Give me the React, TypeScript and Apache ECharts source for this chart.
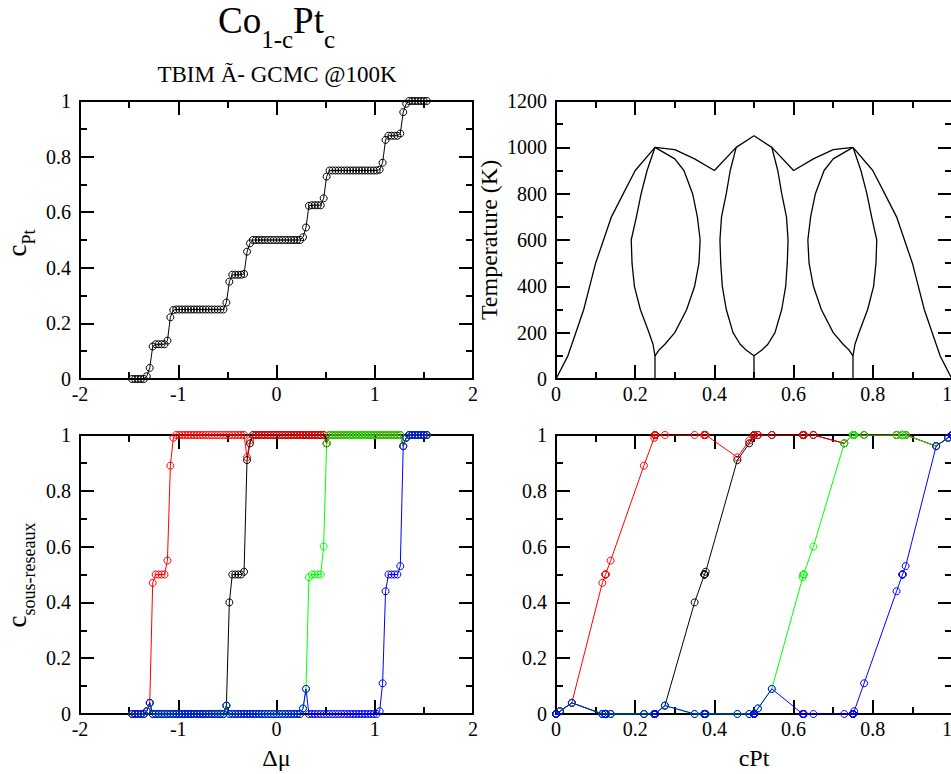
import React, { useEffect, useRef } from "react";
import * as echarts from "echarts";

const FONT = "Liberation Serif";

// Chemical potential grid of the GCMC run
const dmu = [
  -1.47, -1.44, -1.41, -1.38, -1.35, -1.32, -1.29, -1.26, -1.23, -1.2,
  -1.17, -1.14, -1.11, -1.08, -1.05, -1.02, -0.99, -0.96, -0.93, -0.9,
  -0.87, -0.84, -0.81, -0.78, -0.75, -0.72, -0.69, -0.66, -0.63, -0.6,
  -0.57, -0.54, -0.51, -0.48, -0.45, -0.42, -0.39, -0.36, -0.33, -0.3,
  -0.27, -0.24, -0.21, -0.18, -0.15, -0.12, -0.09, -0.06, -0.03, 0,
  0.03, 0.06, 0.09, 0.12, 0.15, 0.18, 0.21, 0.24, 0.27, 0.3,
  0.33, 0.36, 0.39, 0.42, 0.45, 0.48, 0.51, 0.54, 0.57, 0.6,
  0.63, 0.66, 0.69, 0.72, 0.75, 0.78, 0.81, 0.84, 0.87, 0.9,
  0.93, 0.96, 0.99, 1.02, 1.05, 1.08, 1.11, 1.14, 1.17, 1.2,
  1.23, 1.26, 1.29, 1.32, 1.35, 1.38, 1.41, 1.44, 1.47, 1.5,
  1.53,
];

// Global Pt concentration
const cPt = [
  0, 0, 0, 0, 0, 0.01, 0.04, 0.117, 0.125, 0.125,
  0.125, 0.125, 0.138, 0.222, 0.248, 0.25, 0.25, 0.25, 0.25, 0.25,
  0.25, 0.25, 0.25, 0.25, 0.25, 0.25, 0.25, 0.25, 0.25, 0.25,
  0.25, 0.25, 0.275, 0.35, 0.375, 0.375, 0.375, 0.375, 0.378, 0.458,
  0.488, 0.5, 0.5, 0.5, 0.5, 0.5, 0.5, 0.5, 0.5, 0.5,
  0.5, 0.5, 0.5, 0.5, 0.5, 0.5, 0.5, 0.5, 0.51, 0.545,
  0.623, 0.625, 0.625, 0.625, 0.625, 0.65, 0.728, 0.75, 0.75, 0.75,
  0.75, 0.75, 0.75, 0.75, 0.75, 0.75, 0.75, 0.75, 0.75, 0.75,
  0.75, 0.75, 0.75, 0.75, 0.753, 0.778, 0.86, 0.875, 0.875, 0.875,
  0.875, 0.883, 0.96, 0.99, 1, 1, 1, 1, 1, 1,
  1,
];

// Sublattice concentrations
const subBlack = [
  0, 0, 0, 0, 0, 0.01, 0.04, 0, 0, 0,
  0, 0, 0, 0, 0, 0, 0, 0, 0, 0,
  0, 0, 0, 0, 0, 0, 0, 0, 0, 0,
  0, 0, 0.03, 0.4, 0.5, 0.5, 0.5, 0.5, 0.51, 0.91,
  0.97, 1, 1, 1, 1, 1, 1, 1, 1, 1,
  1, 1, 1, 1, 1, 1, 1, 1, 1, 1,
  1, 1, 1, 1, 1, 1, 0.97, 1, 1, 1,
  1, 1, 1, 1, 1, 1, 1, 1, 1, 1,
  1, 1, 1, 1, 1, 1, 1, 1, 1, 1,
  1, 1, 0.96, 0.99, 1, 1, 1, 1, 1, 1,
  1,
];

const subRed = [
  0, 0, 0, 0, 0, 0.01, 0.04, 0.47, 0.5, 0.5,
  0.5, 0.5, 0.55, 0.89, 0.99, 1, 1, 1, 1, 1,
  1, 1, 1, 1, 1, 1, 1, 1, 1, 1,
  1, 1, 1, 1, 1, 1, 1, 1, 1, 0.92,
  0.98, 1, 1, 1, 1, 1, 1, 1, 1, 1,
  1, 1, 1, 1, 1, 1, 1, 1, 1, 1,
  1, 1, 1, 1, 1, 1, 0.97, 1, 1, 1,
  1, 1, 1, 1, 1, 1, 1, 1, 1, 1,
  1, 1, 1, 1, 1, 1, 1, 1, 1, 1,
  1, 1, 0.96, 0.99, 1, 1, 1, 1, 1, 1,
  1,
];

const subGreen = [
  0, 0, 0, 0, 0, 0.01, 0.04, 0, 0, 0,
  0, 0, 0, 0, 0, 0, 0, 0, 0, 0,
  0, 0, 0, 0, 0, 0, 0, 0, 0, 0,
  0, 0, 0.03, 0, 0, 0, 0, 0, 0, 0,
  0, 0, 0, 0, 0, 0, 0, 0, 0, 0,
  0, 0, 0, 0, 0, 0, 0, 0, 0.02, 0.09,
  0.49, 0.5, 0.5, 0.5, 0.5, 0.6, 0.97, 1, 1, 1,
  1, 1, 1, 1, 1, 1, 1, 1, 1, 1,
  1, 1, 1, 1, 1, 1, 1, 1, 1, 1,
  1, 1, 0.96, 0.99, 1, 1, 1, 1, 1, 1,
  1,
];

const subBlue = [
  0, 0, 0, 0, 0, 0.01, 0.04, 0, 0, 0,
  0, 0, 0, 0, 0, 0, 0, 0, 0, 0,
  0, 0, 0, 0, 0, 0, 0, 0, 0, 0,
  0, 0, 0.03, 0, 0, 0, 0, 0, 0, 0,
  0, 0, 0, 0, 0, 0, 0, 0, 0, 0,
  0, 0, 0, 0, 0, 0, 0, 0, 0.02, 0.09,
  0, 0, 0, 0, 0, 0, 0, 0, 0, 0,
  0, 0, 0, 0, 0, 0, 0, 0, 0, 0,
  0, 0, 0, 0, 0.01, 0.11, 0.44, 0.5, 0.5, 0.5,
  0.5, 0.53, 0.96, 0.99, 1, 1, 1, 1, 1, 1,
  1,
];

// Phase diagram boundaries: [cPt, T (K)]
const outerLeft = [[0, 0], [0.03, 100], [0.05, 200], [0.07, 300], [0.085, 400], [0.1, 500], [0.12, 600], [0.14, 700], [0.17, 800], [0.2, 900], [0.25, 1000]];
const lensALeft = [[0.25, 1000], [0.23, 900], [0.215, 800], [0.203, 700], [0.19, 600], [0.192, 500], [0.198, 400], [0.213, 300], [0.235, 200], [0.245, 150], [0.25, 100]];
const lensARight = [[0.25, 1000], [0.275, 975], [0.3, 950], [0.323, 900], [0.345, 800], [0.357, 700], [0.364, 600], [0.361, 500], [0.35, 400], [0.33, 300], [0.3, 200], [0.275, 150], [0.26, 125], [0.25, 100]];
const upperEnvelope = [[0.25, 1000], [0.3, 990], [0.35, 950], [0.4, 900], [0.455, 1000], [0.5, 1050], [0.545, 1000], [0.6, 900], [0.65, 950], [0.7, 990], [0.75, 1000]];
const lensBLeft = [[0.455, 1000], [0.44, 900], [0.43, 800], [0.418, 700], [0.414, 600], [0.416, 500], [0.42, 400], [0.43, 300], [0.447, 200], [0.465, 150], [0.48, 125], [0.5, 100]];
const lensBRight = [[0.545, 1000], [0.56, 900], [0.57, 800], [0.582, 700], [0.586, 600], [0.584, 500], [0.58, 400], [0.57, 300], [0.553, 200], [0.535, 150], [0.52, 125], [0.5, 100]];
const lensCLeft = [[0.75, 1000], [0.725, 975], [0.7, 950], [0.677, 900], [0.655, 800], [0.643, 700], [0.636, 600], [0.639, 500], [0.65, 400], [0.67, 300], [0.7, 200], [0.725, 150], [0.74, 125], [0.75, 100]];
const lensCRight = [[0.75, 1000], [0.77, 900], [0.785, 800], [0.797, 700], [0.81, 600], [0.808, 500], [0.802, 400], [0.787, 300], [0.765, 200], [0.755, 150], [0.75, 100]];
const outerRight = [[0.75, 1000], [0.8, 900], [0.83, 800], [0.86, 700], [0.88, 600], [0.9, 500], [0.915, 400], [0.93, 300], [0.95, 200], [0.97, 100], [1, 0]];
const stemA = [[0.25, 0], [0.25, 100]];
const stemB = [[0.5, 0], [0.5, 100]];
const stemC = [[0.75, 0], [0.75, 100]];

const phaseCurves = [outerLeft, lensALeft, lensARight, upperEnvelope, lensBLeft, lensBRight, lensCLeft, lensCRight, outerRight, stemA, stemB, stemC];

const sublattices = [
  { name: "black", color: "#000000", values: subBlack },
  { name: "red", color: "#ff0000", values: subRed },
  { name: "green", color: "#00ff00", values: subGreen },
  { name: "blue", color: "#0000ff", values: subBlue },
];

const TITLE = "TBIM Ã- GCMC @100K";

// Advance widths (em) of the Times-metric serif face, for laying out subscripts
const ADVANCE: Record<string, number> = {
  C: 0.667, o: 0.5, P: 0.556, t: 0.278, c: 0.444, "1": 0.5, "-": 0.333,
  s: 0.389, u: 0.5, r: 0.333, e: 0.444, a: 0.444, x: 0.5,
};

function measure(text: string, size: number): number {
  let w = 0;
  for (const ch of text) w += ADVANCE[ch] ?? 0.5;
  return w * size;
}

const tickText = (v: number) => String(Math.round(v * 1000) / 1000);

function makeAxis(dim: "x" | "y", gridIndex: number, min: number, max: number, interval: number, position: string, showLabel: boolean) {
  const label: any = {
    show: showLabel,
    color: "#000",
    fontFamily: FONT,
    fontSize: 20,
    margin: dim === "x" ? 5 : 9,
    formatter: tickText,
  };
  if (dim === "x" && max === 1) label.alignMaxLabel = "right";
  return {
    type: "value",
    gridIndex,
    min,
    max,
    interval,
    position,
    axisLine: { show: true, onZero: false, lineStyle: { color: "#000", width: 2 } },
    axisTick: { show: true, inside: true, length: 14, lineStyle: { color: "#000", width: 2 } },
    minorTick: { show: true, splitNumber: 2, length: 7, lineStyle: { color: "#000", width: 2 } },
    splitLine: { show: false },
    axisLabel: label,
  };
}

// Text made of main parts and lowered subscripts, laid out around the origin
function subscriptText(parts: { text: string; sub: boolean }[], mainSize: number, subSize: number, drop: number) {
  const widths = parts.map((p) => measure(p.text, p.sub ? subSize : mainSize));
  const total = widths.reduce((a, b) => a + b, 0);
  let x = -total / 2;
  return parts.map((p, i) => {
    const size = p.sub ? subSize : mainSize;
    const base = p.sub ? drop : 0;
    const el = {
      type: "text",
      x,
      y: base - 0.3375 * size,
      style: { text: p.text, fill: "#000", fontFamily: FONT, fontSize: size, align: "left", verticalAlign: "middle" },
    };
    x += widths[i];
    return el;
  });
}

export default function App() {
  const ref = useRef<HTMLDivElement>(null);

  useEffect(() => {
    if (!ref.current) return;
    const chart = echarts.init(ref.current, undefined, { renderer: "svg" });

    // Fixed plot rectangles; labels may run past the page edge
    const grids = [
      { left: 80, top: 101, width: 393, height: 278 },
      { left: 556, top: 101, width: 396, height: 278 },
      { left: 80, top: 435, width: 393, height: 279 },
      { left: 556, top: 435, width: 396, height: 279 },
    ].map((g) => ({ ...g, containLabel: false, outerBoundsMode: "none" }));

    const xRanges = [
      [-2, 2, 1],
      [0, 1, 0.2],
      [-2, 2, 1],
      [0, 1, 0.2],
    ];
    const yRanges = [
      [0, 1, 0.2],
      [0, 1200, 200],
      [0, 1, 0.2],
      [0, 1, 0.2],
    ];

    const xAxis: any[] = [];
    const yAxis: any[] = [];
    for (let i = 0; i < 4; i++) {
      const [x0, x1, xi] = xRanges[i];
      const [y0, y1, yi] = yRanges[i];
      xAxis.push(makeAxis("x", i, x0, x1, xi, "bottom", true));
      xAxis.push(makeAxis("x", i, x0, x1, xi, "top", false));
      yAxis.push(makeAxis("y", i, y0, y1, yi, "left", true));
      yAxis.push(makeAxis("y", i, y0, y1, yi, "right", false));
    }

    const markerSeries = (axis: number, xs: number[], ys: number[], color: string) => ({
      type: "line",
      xAxisIndex: axis,
      yAxisIndex: axis,
      data: xs.map((x, i) => [x, ys[i]]),
      symbol: "circle",
      symbolSize: 7,
      showSymbol: true,
      itemStyle: { color: "rgba(255,255,255,0)", borderColor: color, borderWidth: 1 },
      lineStyle: { color, width: 1 },
    });

    const series: any[] = [];
    series.push(markerSeries(0, dmu, cPt, "#000"));
    phaseCurves.forEach((curve) =>
      series.push({
        type: "line",
        xAxisIndex: 2,
        yAxisIndex: 2,
        data: curve,
        showSymbol: false,
        symbol: "none",
        lineStyle: { color: "#000", width: 1.3 },
      })
    );
    sublattices.forEach((s) => series.push(markerSeries(4, dmu, s.values, s.color)));
    sublattices.forEach((s) => series.push(markerSeries(6, cPt, s.values, s.color)));

    const titleParts = subscriptText(
      [
        { text: "Co", sub: false },
        { text: "1-c", sub: true },
        { text: "Pt", sub: false },
        { text: "c", sub: true },
      ],
      37, 25, 15
    );
    const yLabelTop = subscriptText([{ text: "c", sub: false }, { text: "Pt", sub: true }], 27, 18, 9);
    const yLabelBottom = subscriptText([{ text: "c", sub: false }, { text: "sous-reseaux", sub: true }], 27, 18, 9);

    const graphic: any[] = [
      { type: "group", x: 276.5, y: 33, children: titleParts },
      {
        type: "text",
        x: 277,
        y: 82 - 0.3375 * 23,
        style: { text: TITLE, fill: "#000", fontFamily: FONT, fontSize: 23, align: "center", verticalAlign: "middle" },
      },
      { type: "group", x: 26, y: 243, rotation: Math.PI / 2, children: yLabelTop },
      { type: "group", x: 26, y: 575, rotation: Math.PI / 2, children: yLabelBottom },
      {
        type: "text",
        x: 489,
        y: 240,
        rotation: Math.PI / 2,
        style: { text: "Temperature (K)", fill: "#000", fontFamily: FONT, fontSize: 24, align: "center", verticalAlign: "middle" },
      },
      {
        type: "text",
        x: 276.5,
        y: 758,
        style: { text: "Δμ", fill: "#000", fontFamily: FONT, fontSize: 24, align: "center", verticalAlign: "middle" },
      },
      {
        type: "text",
        x: 754,
        y: 758,
        style: { text: "cPt", fill: "#000", fontFamily: FONT, fontSize: 24, align: "center", verticalAlign: "middle" },
      },
    ];

    chart.setOption({
      animation: false,
      backgroundColor: "#fff",
      textStyle: { fontFamily: FONT },
      grid: grids,
      xAxis,
      yAxis,
      series,
      graphic,
    });

    return () => chart.dispose();
  }, []);

  return (
    <div style={{ position: "fixed", left: 0, top: 0, width: 951, height: 774, overflow: "hidden", background: "#fff", fontFamily: FONT }}>
      <div ref={ref} style={{ width: 951, height: 774, fontFamily: FONT }} />
    </div>
  );
}
